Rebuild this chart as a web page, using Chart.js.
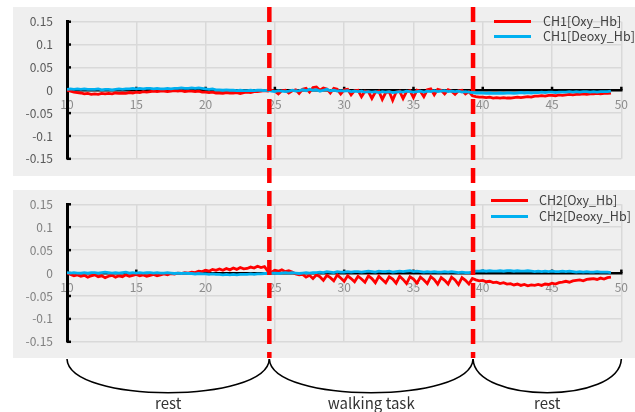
<!DOCTYPE html>
<html>
<head>
<meta charset="utf-8">
<script src="https://cdn.jsdelivr.net/npm/chart.js@4/dist/chart.umd.min.js"></script>
<style>
  html, body { margin: 0; padding: 0; background: #fff; width: 635px; height: 412px; overflow: hidden; }
  body { position: relative; font-family: "Noto Sans CJK JP", "Noto Sans", sans-serif; }
  .panel { position: absolute; background: #efefef; }
  canvas { position: absolute; left: 0; }
  .leg { position: absolute; font-size: 12.5px; color: #404040; white-space: nowrap; line-height: 16px; }
  .swatch { position: absolute; height: 3px; width: 37px; }
  .phase { position: absolute; font-size: 15px; color: #333; transform: translateX(-50%); white-space: nowrap; line-height: 18px; }
</style>
</head>
<body>
<div class="panel" style="left:13px;top:7px;width:622px;height:169px"></div>
<div class="panel" style="left:13px;top:190px;width:622px;height:168px"></div>
<canvas id="ch1" width="635" height="180" style="top:0"></canvas>
<canvas id="ch2" width="635" height="180" style="top:183px"></canvas>
<canvas id="marks" width="635" height="412" style="top:0;pointer-events:none"></canvas>

<div class="swatch" style="left:494px;top:20px;background:#ff0000"></div>
<div class="leg" style="left:543px;top:13px">CH1[Oxy_Hb]</div>
<div class="swatch" style="left:494px;top:35px;background:#00b0f0"></div>
<div class="leg" style="left:543px;top:28px">CH1[Deoxy_Hb]</div>

<div class="swatch" style="left:491px;top:199px;background:#ff0000"></div>
<div class="leg" style="left:539px;top:192px">CH2[Oxy_Hb]</div>
<div class="swatch" style="left:491px;top:215px;background:#00b0f0"></div>
<div class="leg" style="left:539px;top:208px">CH2[Deoxy_Hb]</div>

<div id="phaseLabels"></div>

<script>
// Sampling: one value every 0.25 s starting at t = 10 s
const sampleStart = 10;
const sampleStep = 0.25;

// CH1 oxygenated haemoglobin change
const ch1Oxy = [
  0.000, -0.002, -0.004, -0.005,
  -0.006, -0.008, -0.007, -0.009,
  -0.008, -0.009, -0.007, -0.008,
  -0.007, -0.008, -0.006, -0.007,
  -0.006, -0.007, -0.005, -0.006,
  -0.004, -0.005, -0.003, -0.004,
  -0.003, -0.002, -0.003, -0.002,
  -0.002, -0.003, -0.002, -0.001,
  -0.002, -0.001, -0.003, -0.002,
  -0.002, -0.003, -0.002, -0.004,
  -0.004, -0.005, -0.004, -0.006,
  -0.006, -0.007, -0.005, -0.006,
  -0.006, -0.005, -0.007, -0.005,
  -0.004, -0.005, -0.003, -0.003,
  -0.002, -0.001, -0.002, 0.000,
  -0.002, -0.008, -0.001, 0.000,
  -0.006, -0.001, 0.001, -0.007,
  0.002, 0.004, -0.004, 0.006,
  0.007, 0.000, 0.005, 0.003,
  -0.006, 0.004, 0.002, -0.008,
  0.001, 0.002, -0.010, -0.001,
  0.000, -0.014, -0.002, -0.003,
  -0.018, -0.004, -0.002, -0.020,
  -0.005, -0.003, -0.022, -0.004,
  -0.002, -0.018, -0.003, -0.001,
  -0.016, 0.000, -0.002, -0.014,
  0.001, 0.003, -0.010, 0.002,
  0.000, -0.008, 0.001, -0.002,
  -0.009, -0.001, 0.000, -0.008,
  -0.003, -0.012, -0.014, -0.015,
  -0.015, -0.016, -0.015, -0.017,
  -0.016, -0.017, -0.016, -0.017,
  -0.017, -0.016, -0.015, -0.016,
  -0.015, -0.014, -0.015, -0.013,
  -0.013, -0.012, -0.013, -0.011,
  -0.011, -0.012, -0.010, -0.011,
  -0.010, -0.009, -0.010, -0.009,
  -0.009, -0.008, -0.009, -0.008,
  -0.008, -0.007, -0.008, -0.007,
  -0.007, -0.006
];

// CH1 deoxygenated haemoglobin change
const ch1Deoxy = [
  0.002, 0.003, 0.002, 0.003,
  0.002, 0.003, 0.002, 0.002,
  0.002, 0.003, 0.001, 0.002,
  0.002, 0.001, 0.002, 0.003,
  0.002, 0.003, 0.003, 0.004,
  0.003, 0.004, 0.003, 0.004,
  0.004, 0.003, 0.004, 0.003,
  0.003, 0.004, 0.003, 0.004,
  0.004, 0.005, 0.004, 0.004,
  0.005, 0.004, 0.005, 0.004,
  0.003, 0.002, 0.003, 0.001,
  0.001, 0.000, 0.001, 0.000,
  0.000, -0.001, 0.000, -0.001,
  -0.001, 0.000, -0.001, 0.000,
  0.000, -0.001, 0.000, -0.002,
  -0.003, -0.001, -0.002, -0.003,
  -0.002, 0.000, -0.002, -0.001,
  0.001, -0.001, 0.002, 0.000,
  0.001, -0.002, 0.000, 0.002,
  -0.001, 0.000, -0.002, -0.001,
  -0.002, -0.001, -0.003, -0.002,
  -0.003, -0.002, -0.004, -0.003,
  -0.004, -0.003, -0.005, -0.003,
  -0.004, -0.003, -0.005, -0.004,
  -0.003, -0.004, -0.002, -0.003,
  -0.004, -0.003, -0.002, -0.004,
  -0.002, -0.003, -0.001, -0.003,
  -0.002, -0.001, -0.003, -0.002,
  -0.003, -0.002, -0.004, -0.003,
  -0.004, -0.005, -0.006, -0.006,
  -0.006, -0.007, -0.006, -0.007,
  -0.007, -0.006, -0.007, -0.006,
  -0.006, -0.007, -0.006, -0.005,
  -0.006, -0.005, -0.006, -0.005,
  -0.005, -0.004, -0.005, -0.004,
  -0.004, -0.005, -0.004, -0.004,
  -0.004, -0.003, -0.004, -0.003,
  -0.004, -0.003, -0.003, -0.004,
  -0.003, -0.004, -0.003, -0.003,
  -0.003, -0.002
];

// CH2 oxygenated haemoglobin change
const ch2Oxy = [
  0.000, -0.003, -0.006, -0.004,
  -0.007, -0.005, -0.009, -0.006,
  -0.004, -0.008, -0.006, -0.010,
  -0.007, -0.005, -0.009, -0.006,
  -0.008, -0.004, -0.007, -0.005,
  -0.003, -0.006, -0.004, -0.007,
  -0.005, -0.003, -0.006, -0.004,
  -0.002, -0.004, -0.001, -0.002,
  0.000, -0.001, 0.001, 0.000,
  0.002, 0.001, 0.004, 0.003,
  0.006, 0.004, 0.008, 0.006,
  0.009, 0.006, 0.010, 0.007,
  0.011, 0.008, 0.012, 0.009,
  0.010, 0.013, 0.011, 0.015,
  0.012, 0.014, 0.004, 0.002,
  0.006, 0.004, 0.007, 0.003,
  0.005, 0.002, -0.002, -0.004,
  -0.003, -0.009, -0.005, -0.012,
  -0.004, -0.008, -0.016, -0.005,
  -0.010, -0.017, -0.004, -0.011,
  -0.018, -0.006, -0.012, -0.019,
  -0.007, -0.013, -0.020, -0.006,
  -0.012, -0.021, -0.007, -0.014,
  -0.021, -0.008, -0.013, -0.022,
  -0.007, -0.014, -0.023, -0.008,
  -0.013, -0.022, -0.009, -0.015,
  -0.023, -0.008, -0.014, -0.024,
  -0.010, -0.016, -0.024, -0.009,
  -0.015, -0.025, -0.010, -0.016,
  -0.024, -0.012, -0.015, -0.017,
  -0.016, -0.019, -0.018, -0.021,
  -0.020, -0.023, -0.021, -0.024,
  -0.023, -0.026, -0.024, -0.027,
  -0.025, -0.028, -0.026, -0.027,
  -0.025, -0.027, -0.024, -0.025,
  -0.022, -0.024, -0.021, -0.020,
  -0.018, -0.020, -0.017, -0.016,
  -0.015, -0.017, -0.014, -0.013,
  -0.012, -0.014, -0.011, -0.013,
  -0.010, -0.009
];

// CH2 deoxygenated haemoglobin change
const ch2Deoxy = [
  0.001, 0.000, 0.001, 0.000,
  0.000, 0.001, 0.000, 0.001,
  0.001, 0.000, 0.001, 0.002,
  0.001, 0.000, 0.001, 0.000,
  0.001, 0.002, 0.000, 0.001,
  0.000, 0.001, 0.000, 0.001,
  0.001, 0.000, 0.001, 0.000,
  0.000, 0.001, 0.000, -0.001,
  0.000, -0.001, 0.000, -0.001,
  -0.001, -0.002, -0.001, -0.002,
  -0.002, -0.003, -0.002, -0.003,
  -0.003, -0.004, -0.003, -0.004,
  -0.003, -0.004, -0.003, -0.003,
  -0.003, -0.002, -0.003, -0.002,
  -0.002, -0.001, -0.001, 0.000,
  0.000, -0.001, 0.000, 0.001,
  0.000, 0.001, 0.000, -0.001,
  0.000, 0.001, 0.000, 0.001,
  0.001, 0.002, 0.001, 0.003,
  0.002, 0.001, 0.003, 0.002,
  0.002, 0.003, 0.002, 0.003,
  0.003, 0.002, 0.003, 0.004,
  0.003, 0.002, 0.004, 0.003,
  0.003, 0.004, 0.002, 0.003,
  0.004, 0.003, 0.004, 0.005,
  0.003, 0.004, 0.003, 0.002,
  0.003, 0.002, 0.003, 0.002,
  0.002, 0.003, 0.002, 0.003,
  0.002, 0.001, 0.002, 0.001,
  0.001, 0.002, 0.004, 0.004,
  0.005, 0.004, 0.005, 0.004,
  0.004, 0.005, 0.004, 0.005,
  0.005, 0.004, 0.005, 0.004,
  0.004, 0.005, 0.004, 0.003,
  0.004, 0.003, 0.004, 0.003,
  0.004, 0.003, 0.003, 0.004,
  0.003, 0.004, 0.003, 0.002,
  0.003, 0.002, 0.003, 0.002,
  0.002, 0.003, 0.002, 0.002,
  0.002, 0.001
];

// Task timing (s): phase boundaries and their names
const phaseBounds = [10, 24.6, 39.3, 50];
const phaseNames = ['rest', 'walking task', 'rest'];
const eventMarks = [24.6, 39.3];

// Axis ranges and ticks
const xRange = { min: 10, max: 50, step: 5 };
const yRange = { min: -0.15, max: 0.15, step: 0.05 };

const RED = '#ff0000';
const BLUE = '#00b0f0';
const FONT = '"Noto Sans CJK JP", "Noto Sans", sans-serif';

function toPoints(values) {
  return values.map((v, i) => ({ x: sampleStart + i * sampleStep, y: v }));
}

// Short inward tick marks on the y axis and small marks on the zero line
const axisMarks = {
  id: 'axisMarks',
  beforeDatasetsDraw(chart) {
    const { ctx, scales: { x, y } } = chart;
    const x0 = x.getPixelForValue(x.min);
    const y0 = y.getPixelForValue(0);
    ctx.save();
    ctx.strokeStyle = '#000';
    ctx.lineWidth = 2.5;
    y.ticks.forEach(t => {
      const py = y.getPixelForValue(t.value);
      ctx.beginPath(); ctx.moveTo(x0, py); ctx.lineTo(x0 + 4, py); ctx.stroke();
    });
    x.ticks.forEach(t => {
      if (t.value === x.min) return;
      const px = x.getPixelForValue(t.value);
      ctx.beginPath(); ctx.moveTo(px, y0); ctx.lineTo(px, y0 - 3.5); ctx.stroke();
    });
    ctx.restore();
  }
};

function makeChart(id, oxy, deoxy, label, pad, yLabelColor) {
  return new Chart(document.getElementById(id), {
    type: 'line',
    data: {
      datasets: [
        { label: label + '[Deoxy_Hb]', data: toPoints(deoxy), borderColor: BLUE, borderWidth: 2.8, pointRadius: 0, order: 0 },
        { label: label + '[Oxy_Hb]', data: toPoints(oxy), borderColor: RED, borderWidth: 2.8, pointRadius: 0, order: 1 }
      ]
    },
    options: {
      responsive: false,
      animation: false,
      events: [],
      layout: { padding: pad },
      plugins: { legend: { display: false }, tooltip: { enabled: false } },
      scales: {
        x: {
          type: 'linear',
          position: { y: 0 },
          min: xRange.min, max: xRange.max,
          grid: { color: '#d9d9d9', lineWidth: 1.5, drawTicks: false },
          border: { display: true, color: '#000', width: 2.5 },
          ticks: { stepSize: xRange.step, autoSkip: false, maxRotation: 0, padding: 7, color: '#8c8c8c', font: { family: FONT, size: 12 } }
        },
        y: {
          min: yRange.min, max: yRange.max,
          afterFit(scale) { scale.width = 67; },
          grid: { color: '#d9d9d9', lineWidth: 1.5, drawTicks: false },
          border: { display: true, color: '#000', width: 3 },
          ticks: {
            stepSize: yRange.step, padding: 14, color: yLabelColor,
            font: { family: FONT, size: 12 },
            callback: v => String(Number(v.toFixed(2)))
          }
        }
      }
    },
    plugins: [axisMarks]
  });
}

const chartTop = makeChart('ch1', ch1Oxy, ch1Deoxy, 'CH1', { left: 0, right: 13, top: 21.7, bottom: 18.3 }, '#595959');
const chartBottom = makeChart('ch2', ch2Oxy, ch2Deoxy, 'CH2', { left: 0, right: 13, top: 21.3, bottom: 19 }, '#808080');

// Event markers across both panels and the phase braces underneath
(function drawMarks() {
  const xs = chartTop.scales.x;
  const ctx = document.getElementById('marks').getContext('2d');
  ctx.save();
  ctx.strokeStyle = RED;
  ctx.lineWidth = 4.5;
  ctx.setLineDash([15, 8]);
  eventMarks.forEach(v => {
    const px = xs.getPixelForValue(v);
    ctx.beginPath(); ctx.moveTo(px, 7); ctx.lineTo(px, 358); ctx.stroke();
  });
  ctx.restore();

  const top = 359, low = 404;
  ctx.save();
  ctx.strokeStyle = '#000';
  ctx.lineWidth = 1.6;
  const holder = document.getElementById('phaseLabels');
  for (let i = 0; i < phaseNames.length; i++) {
    const a = xs.getPixelForValue(phaseBounds[i]);
    const b = xs.getPixelForValue(phaseBounds[i + 1]);
    ctx.beginPath();
    ctx.moveTo(a, top);
    ctx.bezierCurveTo(a + 2, low, b - 2, low, b, top);
    ctx.stroke();
    const lab = document.createElement('div');
    lab.className = 'phase';
    lab.style.left = ((a + b) / 2) + 'px';
    lab.style.top = '394px';
    lab.textContent = phaseNames[i];
    holder.appendChild(lab);
  }
  ctx.restore();
})();
</script>
</body>
</html>
